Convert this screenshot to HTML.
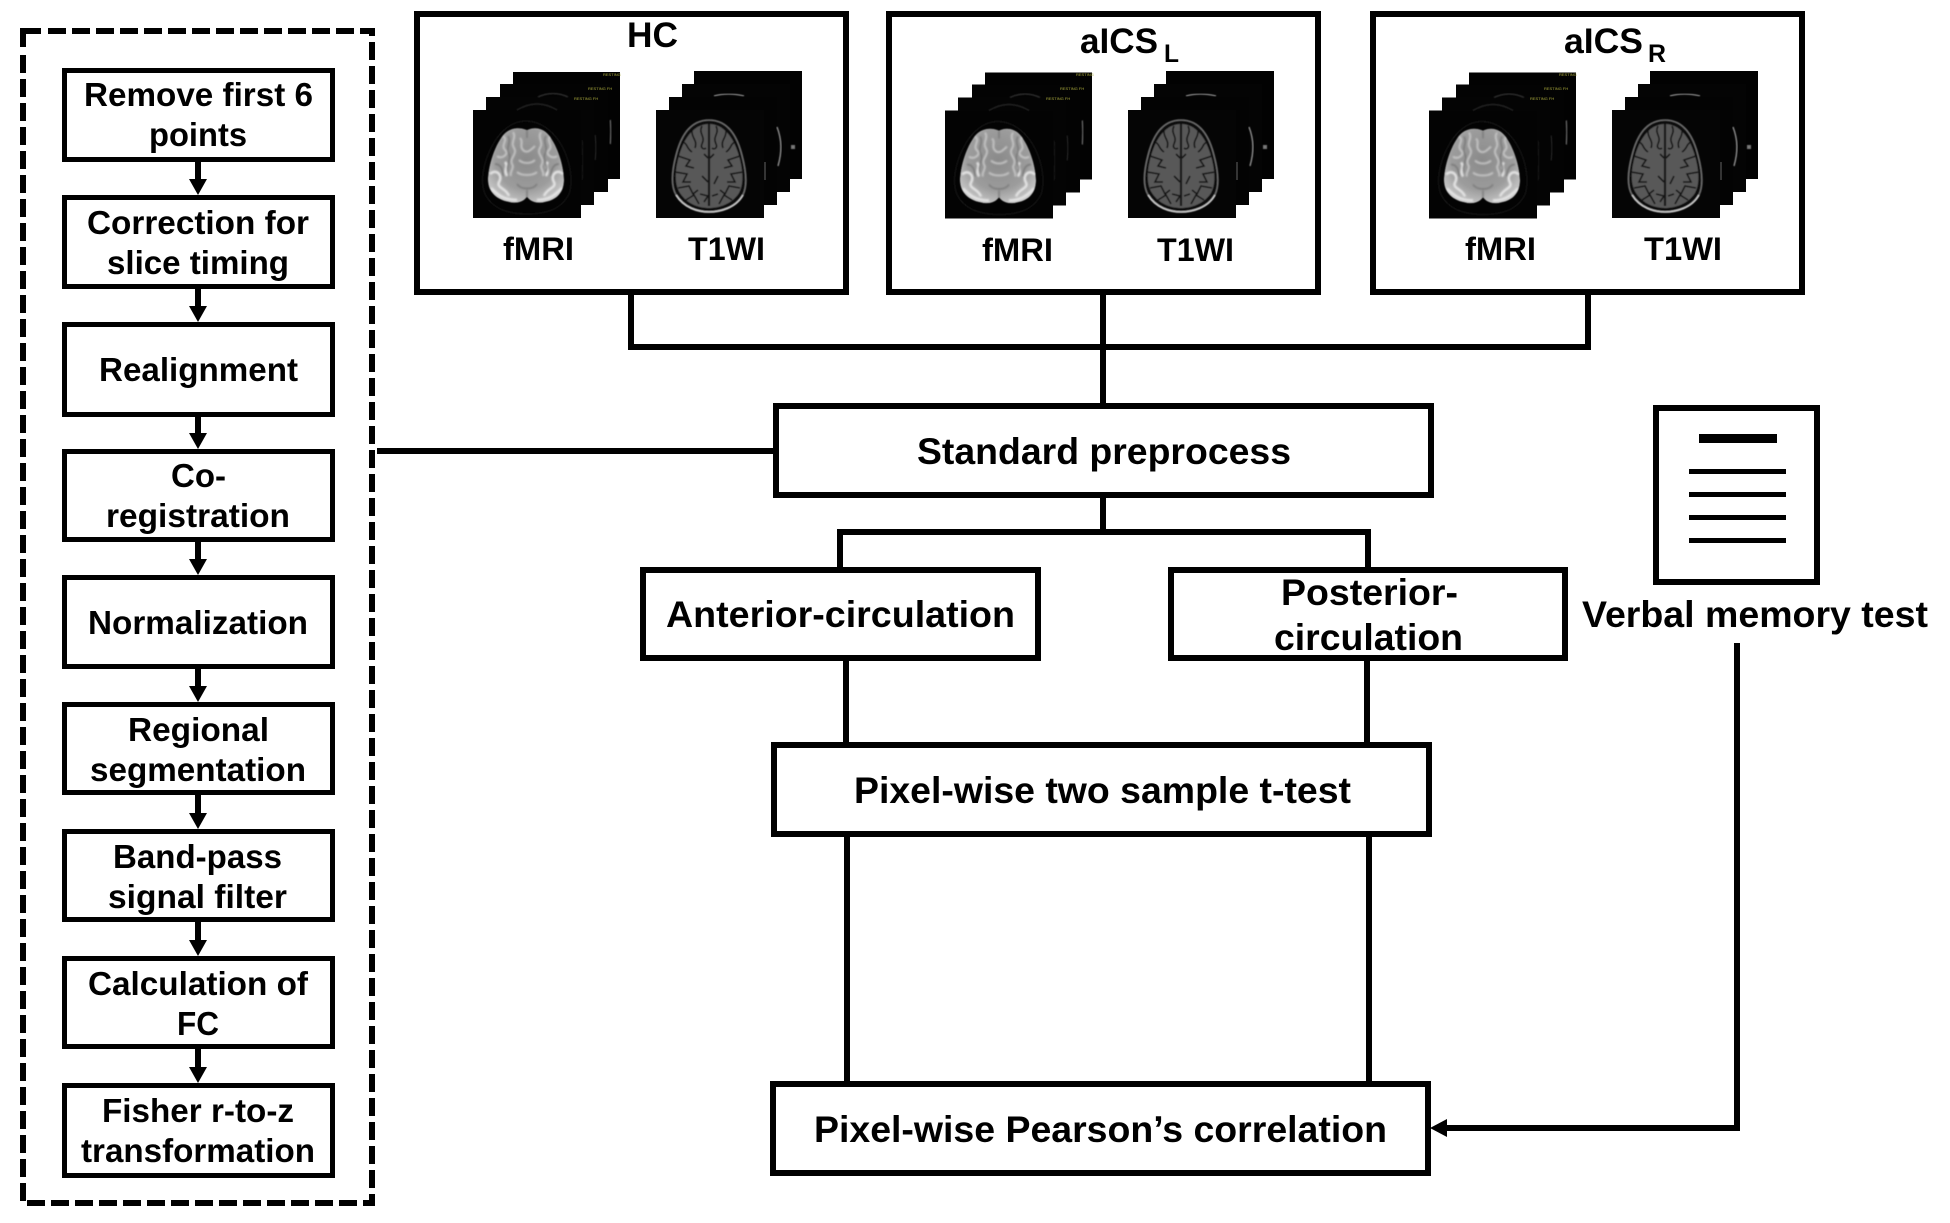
<!DOCTYPE html>
<html><head><meta charset="utf-8"><style>
html,body{margin:0;padding:0;background:#fff}
svg{display:block}
text{font-family:"Liberation Sans",Arial,sans-serif;font-weight:bold;fill:#000}
.s{font-size:33px}.m{font-size:37px}.h{font-size:35px}.l{font-size:32px}.u{font-size:25px}.y{font-size:4px;fill:#a8a83c;font-weight:normal}
.b{fill:#fff;stroke:#000;stroke-width:5}
.c{fill:#fff;stroke:#000;stroke-width:6}
</style></head><body>
<svg xmlns="http://www.w3.org/2000/svg" width="1950" height="1223" viewBox="0 0 1950 1223">
<defs>
<filter id="bl" x="-20%" y="-20%" width="140%" height="140%"><feGaussianBlur stdDeviation="0.9"/></filter>
<filter id="bs" x="-20%" y="-20%" width="140%" height="140%"><feGaussianBlur stdDeviation="0.5"/></filter>
<radialGradient id="fg" cx="50%" cy="42%" r="62%"><stop offset="0" stop-color="#8a8a8a"/><stop offset="0.65" stop-color="#9c9c9c"/><stop offset="1" stop-color="#c8c8c8"/></radialGradient>
<clipPath id="fc"><path d="M54 20C45 16 34 18 28 28C20 40 15 58 15 70C15 82 24 90 36 92C44 94 50 92 54 87C58 92 64 94 72 92C84 90 91 82 91 70C91 58 86 40 78 28C72 18 62 16 54 20Z"/></clipPath>
<g id="fmri">
<rect x="40" y="-38" width="107" height="107" fill="#020202"/>
<rect x="27" y="-26" width="108" height="108" fill="#030303"/>
<rect x="13" y="-13" width="108" height="108" fill="#040404"/>
<rect x="0" y="0" width="108" height="108" fill="#030303"/>
<path d="M65 -13Q80 -20 95 -13" stroke="#2c2c2c" stroke-width="1.5" fill="none" filter="url(#bs)"/>
<path d="M44 0Q54 -6 64 -6Q74 -6 84 0" stroke="#222" stroke-width="1.5" fill="none" filter="url(#bs)"/>
<path d="M137 10Q139 22 137 34" stroke="#4c4c4c" stroke-width="2.5" fill="none" filter="url(#bs)"/>
<path d="M122 25Q124 38 122 50" stroke="#222" stroke-width="1.5" fill="none" filter="url(#bs)"/>
<path d="M109 30Q111 50 109 70" stroke="#161616" stroke-width="1.5" fill="none" filter="url(#bs)"/>
<path d="M53 11C38 11 26 22 18 38C10 54 7 72 12 84C20 100 38 104 54 104C72 104 88 100 96 84C100 72 98 54 90 38C82 22 68 11 53 11Z" fill="none" stroke="#181818" stroke-width="1.2" filter="url(#bs)"/>
<g filter="url(#bs)"><g clip-path="url(#fc)">
<path d="M54 20C45 16 34 18 28 28C20 40 15 58 15 70C15 82 24 90 36 92C44 94 50 92 54 87C58 92 64 94 72 92C84 90 91 82 91 70C91 58 86 40 78 28C72 18 62 16 54 20Z" fill="url(#fg)"/>
<g filter="url(#bl)" fill="none">
<g stroke="#c8c8c8" stroke-width="1.8">
<path d="M30 26C36 30 27 35 32 40C37 44 28 50 24 46"/>
<path d="M40 22C44 28 37 32 41 38C45 44 36 48 39 54C42 58 36 62 38 66"/>
<path d="M68 22C64 28 71 32 67 38C63 44 72 48 69 54C66 58 72 62 70 66"/>
<path d="M78 26C72 30 81 35 76 40C71 44 80 50 84 46"/>
<path d="M47 28C51 32 46 36 50 40C54 44 58 40 62 36M46 50C50 54 58 54 62 50M44 62C48 66 60 66 64 62"/>
</g>
<g stroke="#e6e6e6" stroke-width="2.4">
<path d="M17 64C24 58 30 66 26 72C23 78 33 78 36 86"/>
<path d="M90 64C83 58 77 66 81 72C84 78 74 78 71 86"/>
<path d="M18 78C24 84 30 90 44 90M89 78C83 84 77 90 64 90"/>
<path d="M32 52C36 56 30 60 34 66M75 52C71 56 77 60 73 66"/>
</g>
<g stroke="#767676" stroke-width="1.4">
<path d="M35 26C39 32 32 38 36 44C39 50 32 56 35 62"/>
<path d="M73 26C69 32 76 38 72 44C69 50 76 56 73 62"/>
<path d="M54 20L54 28M54 80L54 90"/>
<path d="M22 54C28 54 30 60 30 66M86 54C80 54 78 60 78 66"/>
<path d="M44 74C48 80 60 80 64 74"/>
</g>
</g>
</g></g>
</g>
<clipPath id="tc"><path d="M53 14C38 14 28 28 23 46C19 60 18 74 24 83C31 94 43 98 53 98C63 98 76 94 83 83C88 74 87 60 83 46C78 28 68 14 53 14Z"/></clipPath>
<g id="t1">
<rect x="38" y="-39" width="108" height="108" fill="#020202"/>
<rect x="26" y="-26" width="108" height="108" fill="#040404"/>
<rect x="13" y="-13" width="108" height="108" fill="#030303"/>
<rect x="0" y="0" width="108" height="108" fill="#050505"/>
<path d="M58 -14Q72 -18 88 -14" stroke="#8a8a8a" stroke-width="1.2" fill="none" filter="url(#bs)"/>
<path d="M121 17C126 30 126 42 122 56" stroke="#8c8c8c" stroke-width="1.4" fill="none" filter="url(#bs)"/>
<path d="M109 52L109 70" stroke="#666" stroke-width="1" fill="none"/>
<rect x="135" y="35" width="4" height="4" fill="#777" filter="url(#bs)"/>
<g filter="url(#bs)">
<path d="M53 10C35 10 25 25 20 45C16 60 14 75 20 85C28 98 42 102 53 102C64 102 80 98 87 85C92 75 90 60 86 45C81 25 71 10 53 10Z" fill="#0e0e0e" stroke="#6c6c6c" stroke-width="1.6"/>
<path d="M20 85C28 98 42 102 53 102C64 102 80 98 87 85" fill="none" stroke="#c4c4c4" stroke-width="1.8"/>
<path d="M53 14C38 14 28 28 23 46C19 60 18 74 24 83C31 94 43 98 53 98C63 98 76 94 83 83C88 74 87 60 83 46C78 28 68 14 53 14Z" fill="#585858"/>
<g clip-path="url(#tc)" fill="none" stroke="#141414" stroke-width="1.6">
<path d="M53 14V96" stroke-width="2.2"/>
<path d="M46 16C42 24 50 26 46 34C44 38 48 40 50 38M60 16C64 24 56 26 60 34C62 38 58 40 56 38"/>
<path d="M36 20C35 28 42 30 39 38M70 20C71 28 64 30 67 38"/>
<path d="M27 32C32 34 30 38 36 42M79 32C74 34 76 38 70 42"/>
<path d="M22 46L34 50L30 56L38 58M84 46L72 50L76 56L68 58"/>
<path d="M19 62L31 64L27 72L35 72M87 62L75 64L79 72L71 72"/>
<path d="M22 78L33 76L37 84L42 80M84 78L73 76L69 84L64 80"/>
<path d="M30 90L38 85L43 94M76 90L68 85L63 94"/>
<path d="M48 44L52 48M58 44L54 48M46 66L52 72M62 66L58 74M44 84L52 86L48 92M62 84L56 86"/>
</g>
</g>
</g>
</defs>

<!-- dashed container -->
<g stroke="#000" stroke-width="6" fill="none">
<path d="M48 31H375" stroke-dasharray="18 6"/>
<path d="M20 31H41"/>
<path d="M23 28V47"/>
<path d="M23 55V1201" stroke-dasharray="18 6"/>
<path d="M372 42V1188" stroke-dasharray="18 6"/>
<path d="M372 28V36M372 1194V1206"/>
<path d="M27 1203H358" stroke-dasharray="18 6"/>
<path d="M363 1203H375"/>
</g>

<!-- left arrows -->
<g fill="#000">
<rect x="195" y="160" width="6" height="22"/><path d="M189 179H207L198 195Z"/>
<rect x="195" y="287" width="6" height="22"/><path d="M189 306H207L198 322Z"/>
<rect x="195" y="414" width="6" height="22"/><path d="M189 433H207L198 449Z"/>
<rect x="195" y="540" width="6" height="22"/><path d="M189 559H207L198 575Z"/>
<rect x="195" y="667" width="6" height="22"/><path d="M189 686H207L198 702Z"/>
<rect x="195" y="793" width="6" height="23"/><path d="M189 813H207L198 829Z"/>
<rect x="195" y="920" width="6" height="23"/><path d="M189 940H207L198 956Z"/>
<rect x="195" y="1047" width="6" height="23"/><path d="M189 1067H207L198 1083Z"/>
</g>

<!-- left boxes -->
<rect class="b" x="64.500" y="70.500" width="268" height="89"/>
<rect class="b" x="64.500" y="197.500" width="268" height="89"/>
<rect class="b" x="64.500" y="324.500" width="268" height="90"/>
<rect class="b" x="64.500" y="451.500" width="268" height="88"/>
<rect class="b" x="64.500" y="577.500" width="268" height="89"/>
<rect class="b" x="64.500" y="704.500" width="268" height="88"/>
<rect class="b" x="64.500" y="831.500" width="268" height="88"/>
<rect class="b" x="64.500" y="958.500" width="268" height="88"/>
<rect class="b" x="64.500" y="1085.500" width="268" height="90"/>

<text class="s" x="84" y="106" textLength="229" lengthAdjust="spacingAndGlyphs">Remove first 6</text>
<text class="s" x="149" y="146" textLength="98" lengthAdjust="spacingAndGlyphs">points</text>
<text class="s" x="87" y="234" textLength="222" lengthAdjust="spacingAndGlyphs">Correction for</text>
<text class="s" x="107" y="274" textLength="182" lengthAdjust="spacingAndGlyphs">slice timing</text>
<text class="s" x="99" y="381" textLength="199" lengthAdjust="spacingAndGlyphs">Realignment</text>
<text class="s" x="171" y="487" textLength="55" lengthAdjust="spacingAndGlyphs">Co-</text>
<text class="s" x="106" y="527" textLength="184" lengthAdjust="spacingAndGlyphs">registration</text>
<text class="s" x="88" y="634" textLength="220" lengthAdjust="spacingAndGlyphs">Normalization</text>
<text class="s" x="128" y="741" textLength="141" lengthAdjust="spacingAndGlyphs">Regional</text>
<text class="s" x="90" y="781" textLength="216" lengthAdjust="spacingAndGlyphs">segmentation</text>
<text class="s" x="113" y="868" textLength="169" lengthAdjust="spacingAndGlyphs">Band-pass</text>
<text class="s" x="108" y="908" textLength="179" lengthAdjust="spacingAndGlyphs">signal filter</text>
<text class="s" x="88" y="995" textLength="220" lengthAdjust="spacingAndGlyphs">Calculation of</text>
<text class="s" x="177" y="1035" textLength="42" lengthAdjust="spacingAndGlyphs">FC</text>
<text class="s" x="102" y="1122" textLength="192" lengthAdjust="spacingAndGlyphs">Fisher r-to-z</text>
<text class="s" x="81" y="1162" textLength="234" lengthAdjust="spacingAndGlyphs">transformation</text>

<!-- connectors -->
<g fill="#000">
<rect x="628" y="292" width="6" height="58"/>
<rect x="1100" y="292" width="6" height="114"/>
<rect x="1585" y="292" width="6" height="58"/>
<rect x="628" y="344" width="963" height="6"/>
<rect x="377" y="448" width="398" height="6"/>
<rect x="1100" y="496" width="6" height="38"/>
<rect x="837" y="529" width="534" height="6"/>
<rect x="837" y="529" width="6" height="40"/>
<rect x="1365" y="529" width="6" height="40"/>
<rect x="843" y="659" width="6" height="85"/>
<rect x="1364" y="659" width="6" height="85"/>
<rect x="844" y="835" width="6" height="248"/>
<rect x="1366" y="835" width="6" height="248"/>
<rect x="1734" y="643" width="6" height="488"/>
<rect x="1444" y="1125" width="296" height="6"/>
<path d="M1430 1128L1447 1119V1137Z"/>
</g>

<!-- top boxes -->
<rect class="c" x="417" y="14" width="429" height="278"/>
<rect class="c" x="889" y="14" width="429" height="278"/>
<rect class="c" x="1373" y="14" width="429" height="278"/>

<use href="#fmri" transform="translate(473 110)"/>
<use href="#t1" transform="translate(656 110)"/>
<use href="#fmri" transform="translate(945 110.500)"/>
<use href="#t1" transform="translate(1128 110)"/>
<use href="#fmri" transform="translate(1429 110.500)"/>
<use href="#t1" transform="translate(1612 110)"/>

<text class="y" x="603" y="76">RESTING</text><text class="y" x="588" y="90">RESTING FH</text><text class="y" x="574" y="100">RESTING FH</text>
<text class="y" x="1076" y="76">RESTING</text><text class="y" x="1060" y="90">RESTING FH</text><text class="y" x="1046" y="100">RESTING FH</text>
<text class="y" x="1559" y="76">RESTING</text><text class="y" x="1544" y="90">RESTING FH</text><text class="y" x="1530" y="100">RESTING FH</text>

<text class="h" x="627" y="47" textLength="51" lengthAdjust="spacingAndGlyphs">HC</text>
<text class="h" x="1080" y="53" textLength="78" lengthAdjust="spacingAndGlyphs">aICS</text>
<text class="u" x="1164" y="62" textLength="15" lengthAdjust="spacingAndGlyphs">L</text>
<text class="h" x="1564" y="53" textLength="79" lengthAdjust="spacingAndGlyphs">aICS</text>
<text class="u" x="1648" y="62" textLength="18" lengthAdjust="spacingAndGlyphs">R</text>
<text class="l" x="503" y="260" textLength="71" lengthAdjust="spacingAndGlyphs">fMRI</text>
<text class="l" x="688" y="260" textLength="77" lengthAdjust="spacingAndGlyphs">T1WI</text>
<text class="l" x="982" y="261" textLength="71" lengthAdjust="spacingAndGlyphs">fMRI</text>
<text class="l" x="1157" y="261" textLength="77" lengthAdjust="spacingAndGlyphs">T1WI</text>
<text class="l" x="1465" y="260" textLength="71" lengthAdjust="spacingAndGlyphs">fMRI</text>
<text class="l" x="1644" y="260" textLength="78" lengthAdjust="spacingAndGlyphs">T1WI</text>

<!-- main boxes -->
<rect class="c" x="776" y="406" width="655" height="89"/>
<rect class="c" x="643" y="570" width="395" height="88"/>
<rect class="c" x="1171" y="570" width="394" height="88"/>
<rect class="c" x="774" y="745" width="655" height="89"/>
<rect class="c" x="773" y="1084" width="655" height="89"/>

<text class="m" x="917" y="464" textLength="374" lengthAdjust="spacingAndGlyphs">Standard preprocess</text>
<text class="m" x="666" y="627" textLength="349" lengthAdjust="spacingAndGlyphs">Anterior-circulation</text>
<text class="m" x="1281" y="605" textLength="177" lengthAdjust="spacingAndGlyphs">Posterior-</text>
<text class="m" x="1274" y="650" textLength="189" lengthAdjust="spacingAndGlyphs">circulation</text>
<text class="m" x="1582" y="627" textLength="346" lengthAdjust="spacingAndGlyphs">Verbal memory test</text>
<text class="m" x="854" y="803" textLength="497" lengthAdjust="spacingAndGlyphs">Pixel-wise two sample t-test</text>
<text class="m" x="814" y="1142" textLength="573" lengthAdjust="spacingAndGlyphs">Pixel-wise Pearson’s correlation</text>

<!-- document icon -->
<rect class="c" x="1656" y="408" width="161" height="174"/>
<g fill="#000">
<rect x="1699" y="434" width="78" height="9"/>
<rect x="1689" y="469" width="97" height="5"/>
<rect x="1689" y="492" width="97" height="5"/>
<rect x="1689" y="515" width="97" height="5"/>
<rect x="1689" y="538" width="97" height="5"/>
</g>
</svg>
</body></html>
